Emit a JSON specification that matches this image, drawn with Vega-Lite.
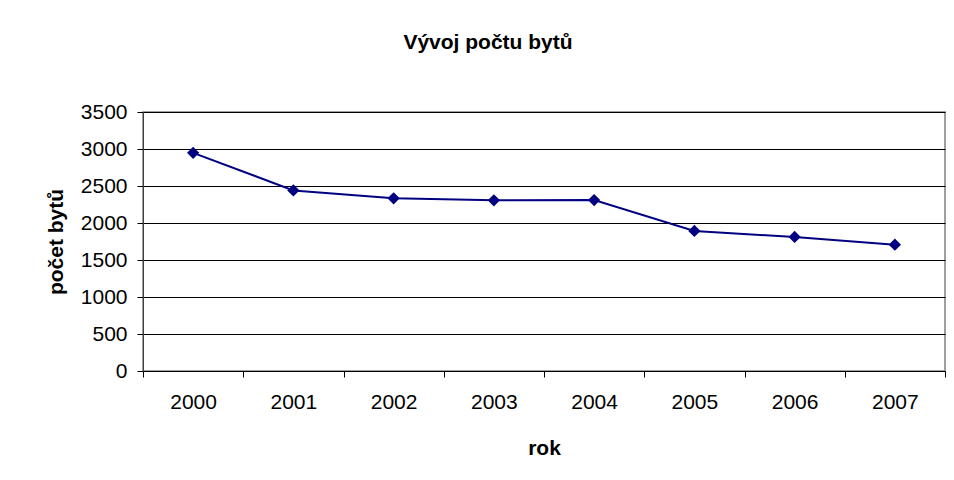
{
  "$schema": "https://vega.github.io/schema/vega-lite/v6.json",
  "width": 802,
  "height": 259,
  "autosize": {"type": "none"},
  "padding": {"left": 143, "top": 112, "right": 9, "bottom": 109},
  "background": "white",
  "title": {
    "text": "Vývoj počtu bytů",
    "font": "Liberation Sans",
    "fontSize": 21,
    "fontWeight": "bold",
    "color": "black",
    "anchor": "middle",
    "frame": "group",
    "dx": -56,
    "offset": 48
  },
  "data": {
    "values": [
      {"rok": "2000", "pocet": 2948},
      {"rok": "2001", "pocet": 2440},
      {"rok": "2002", "pocet": 2333},
      {"rok": "2003", "pocet": 2307},
      {"rok": "2004", "pocet": 2310},
      {"rok": "2005", "pocet": 1892},
      {"rok": "2006", "pocet": 1811},
      {"rok": "2007", "pocet": 1707}
    ]
  },
  "encoding": {
    "x": {
      "field": "rok",
      "type": "ordinal",
      "title": "rok",
      "scale": {"type": "band", "paddingInner": 0, "paddingOuter": 0},
      "axis": {
        "labelAngle": 0,
        "labelFont": "Liberation Sans",
        "labelFontSize": 21,
        "labelColor": "black",
        "labelPadding": 14,
        "tickBand": "extent",
        "tickSize": 6,
        "tickColor": "black",
        "domainColor": "black",
        "grid": false,
        "titleFont": "Liberation Sans",
        "titleFontSize": 21,
        "titleFontWeight": "bold",
        "titleColor": "black",
        "titlePadding": 25
      }
    },
    "y": {
      "field": "pocet",
      "type": "quantitative",
      "title": "počet bytů",
      "scale": {"domain": [0, 3500], "nice": false},
      "axis": {
        "values": [0, 500, 1000, 1500, 2000, 2500, 3000, 3500],
        "format": "d",
        "labelFont": "Liberation Sans",
        "labelFontSize": 21,
        "labelColor": "black",
        "labelPadding": 10,
        "tickSize": 6,
        "tickColor": "black",
        "domainColor": "#404040",
        "gridColor": "black",
        "gridOpacity": 1,
        "titleFont": "Liberation Sans",
        "titleFontSize": 21,
        "titleFontWeight": "bold",
        "titleColor": "black",
        "titlePadding": 14
      }
    }
  },
  "layer": [
    {"mark": {"type": "line", "color": "#000080", "strokeWidth": 2}},
    {"mark": {"type": "point", "shape": "diamond", "filled": true, "size": 150, "color": "#000080", "opacity": 1}}
  ],
  "config": {
    "view": {"stroke": "#808080", "strokeWidth": 1.5}
  }
}
